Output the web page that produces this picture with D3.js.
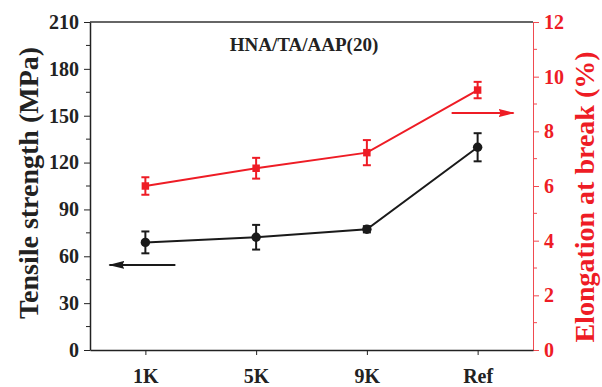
<!DOCTYPE html>
<html>
<head>
<meta charset="utf-8">
<script src="https://cdn.jsdelivr.net/npm/d3@7"></script>
<style>
  body { margin: 0; background: #fff; }
</style>
</head>
<body>
<svg id="chart" width="602" height="387"></svg>
<script>
// data
let categories = ["1K", "5K", "9K", "Ref"];
let strength = [68.9, 72.2, 77.3, 129.8];
let strengthErr = [7.0, 7.9, 2.0, 9.0];
let elongation = [6.0, 6.65, 7.22, 9.51];
let elongationErr = [0.32, 0.38, 0.46, 0.3];
let leftTicks = [0, 30, 60, 90, 120, 150, 180, 210];
let rightTicks = [0, 2, 4, 6, 8, 10, 12];

let svg = d3.select("#chart");
let margin = { left: 90, right: 69, top: 22, bottom: 37 };
let width = 602 - margin.left - margin.right;
let height = 387 - margin.top - margin.bottom;
let red = "#ee1c25";
let redAxis = "#f04a50";
let serif = "'Liberation Serif', 'Times New Roman', serif";

let g = svg.append("g").attr("transform", "translate(" + margin.left + "," + margin.top + ")");

let xScale = d3.scalePoint().domain(categories).range([0, width]).padding(0.5);
let yLeft = d3.scaleLinear().domain([0, 210]).range([height, 0]);
let yRight = d3.scaleLinear().domain([0, 12]).range([height, 0]);

function styleText(sel, size, color) {
    sel.style("font-family", serif)
        .style("font-weight", "bold")
        .style("font-size", size + "px")
        .attr("fill", color);
}

// minor ticks
let leftMinor = d3.range(15, 210, 30);
let rightMinor = d3.range(1, 12, 2);

g.selectAll(".lminor").data(leftMinor).enter().append("line")
    .attr("x1", -4).attr("x2", 0)
    .attr("y1", d => yLeft(d)).attr("y2", d => yLeft(d))
    .attr("stroke", "#222").attr("stroke-width", 1);

g.selectAll(".rminor").data(rightMinor).enter().append("line")
    .attr("x1", width).attr("x2", width + 4)
    .attr("y1", d => yRight(d)).attr("y2", d => yRight(d))
    .attr("stroke", redAxis).attr("stroke-width", 1);

// top border
g.append("line")
    .attr("x1", 0).attr("x2", width)
    .attr("y1", 0).attr("y2", 0)
    .attr("stroke", "#666").attr("stroke-width", 2);

// left axis
let leftAxis = g.append("g")
    .call(d3.axisLeft(yLeft).tickValues(leftTicks).tickSize(6).tickPadding(5).tickSizeOuter(0));
leftAxis.select(".domain").attr("stroke", "#222").attr("stroke-width", 1.5);
leftAxis.selectAll(".tick line").attr("stroke", "#222").attr("stroke-width", 1);
styleText(leftAxis.selectAll("text"), 20, "#222");

// right axis
let rightAxis = g.append("g")
    .attr("transform", "translate(" + width + ",0)")
    .call(d3.axisRight(yRight).tickValues(rightTicks).tickSize(6).tickPadding(5).tickSizeOuter(0));
rightAxis.select(".domain").attr("stroke", redAxis).attr("stroke-width", 1);
rightAxis.selectAll(".tick line").attr("stroke", redAxis).attr("stroke-width", 1);
styleText(rightAxis.selectAll("text"), 20, red);

// bottom axis
let bottomAxis = g.append("g")
    .attr("transform", "translate(0," + height + ")")
    .call(d3.axisBottom(xScale).tickSize(5).tickPadding(14).tickSizeOuter(0));
bottomAxis.select(".domain").attr("stroke", "#222").attr("stroke-width", 1.5);
bottomAxis.selectAll(".tick line").attr("stroke", "#222");
styleText(bottomAxis.selectAll("text"), 20, "#222");

// series
function drawSeries(values, errs, yScale, color, shape, size) {
    let line = d3.line()
        .x((d, i) => xScale(categories[i]))
        .y(d => yScale(d));
    g.append("path").datum(values)
        .attr("d", line)
        .attr("fill", "none")
        .attr("stroke", color)
        .attr("stroke-width", 2);

    let eb = g.append("g");
    values.forEach(function (v, i) {
        let x = xScale(categories[i]);
        let y0 = yScale(v - errs[i]);
        let y1 = yScale(v + errs[i]);
        eb.append("line").attr("x1", x).attr("x2", x).attr("y1", y0).attr("y2", y1)
            .attr("stroke", color).attr("stroke-width", 2);
        eb.append("line").attr("x1", x - 4).attr("x2", x + 4).attr("y1", y0).attr("y2", y0)
            .attr("stroke", color).attr("stroke-width", 2);
        eb.append("line").attr("x1", x - 4).attr("x2", x + 4).attr("y1", y1).attr("y2", y1)
            .attr("stroke", color).attr("stroke-width", 2);
    });

    let sym = d3.symbol().type(shape).size(size);
    g.append("g").selectAll("path").data(values).enter().append("path")
        .attr("d", sym)
        .attr("transform", (d, i) => "translate(" + xScale(categories[i]) + "," + yScale(d) + ")")
        .attr("fill", color);
}

drawSeries(strength, strengthErr, yLeft, "#1a1a1a", d3.symbolCircle, 70);
drawSeries(elongation, elongationErr, yRight, red, d3.symbolSquare, 56);

// arrows
let defs = svg.append("defs");
function marker(id, color) {
    defs.append("marker")
        .attr("id", id)
        .attr("viewBox", "0 0 16 8")
        .attr("refX", 15).attr("refY", 4)
        .attr("markerWidth", 16).attr("markerHeight", 8)
        .attr("markerUnits", "userSpaceOnUse")
        .attr("orient", "auto")
        .append("path")
        .attr("d", "M0,0 L16,4 L0,8 L2,4 Z")
        .attr("fill", color);
}
marker("arrowBlack", "#1a1a1a");
marker("arrowRed", red);

// black arrow points to left axis (value ~55 MPa)
g.append("line")
    .attr("x1", xScale("1K") + 30).attr("x2", xScale("1K") - 36)
    .attr("y1", yLeft(54.5)).attr("y2", yLeft(54.5))
    .attr("stroke", "#1a1a1a").attr("stroke-width", 2)
    .attr("marker-end", "url(#arrowBlack)");

// red arrow points to right axis (value ~8.7 %)
g.append("line")
    .attr("x1", xScale("Ref") - 26).attr("x2", xScale("Ref") + 36)
    .attr("y1", yRight(8.67)).attr("y2", yRight(8.67))
    .attr("stroke", red).attr("stroke-width", 2)
    .attr("marker-end", "url(#arrowRed)");

// sample label
styleText(g.append("text")
    .attr("x", 304 - margin.left)
    .attr("y", 51 - margin.top)
    .attr("text-anchor", "middle")
    .text("HNA/TA/AAP(20)"), 19, "#222");

// axis titles
styleText(svg.append("text")
    .attr("transform", "translate(38,183) rotate(-90)")
    .attr("text-anchor", "middle")
    .text("Tensile strength (MPa)"), 28, "#222");

styleText(svg.append("text")
    .attr("transform", "translate(594,197) rotate(-90)")
    .attr("text-anchor", "middle")
    .text("Elongation at break (%)"), 28, red);
</script>
</body>
</html>
